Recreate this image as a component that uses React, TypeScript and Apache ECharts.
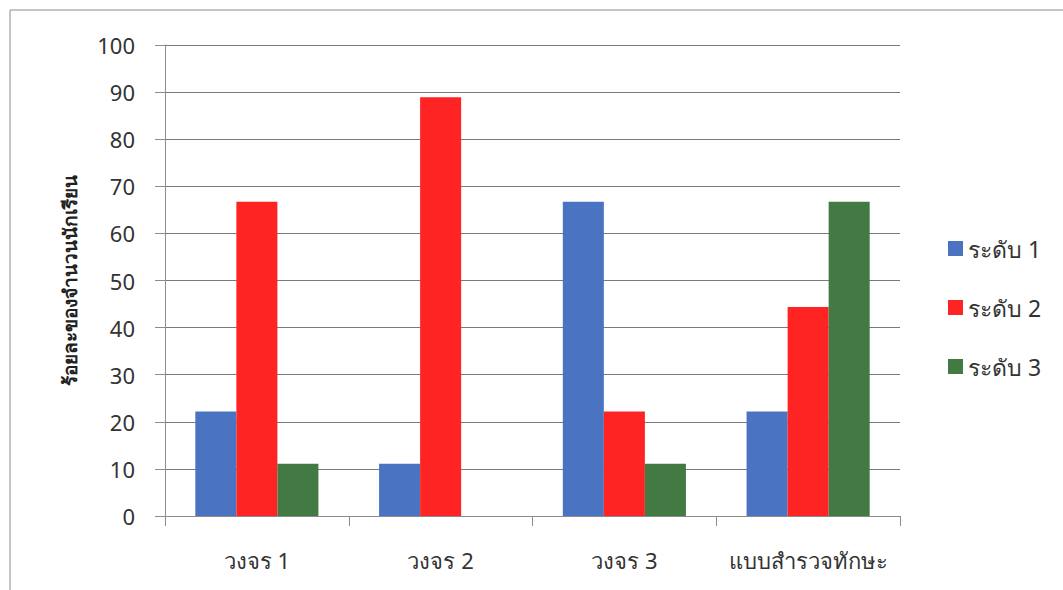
import React, { useEffect, useRef } from "react";
import * as echarts from "echarts";

const categories = ["วงจร 1", "วงจร 2", "วงจร 3", "แบบสำรวจทักษะ"];
const seriesNames = ["ระดับ 1", "ระดับ 2", "ระดับ 3"];
const level1 = [22.2, 11.1, 66.7, 22.2];
const level2 = [66.7, 88.9, 22.2, 44.4];
const level3 = [11.1, 0, 11.1, 66.7];
const colors = ["#4a73c2", "#ff2424", "#437a44"];

const FONT = "'Noto Sans', 'DejaVu Sans', sans-serif";

export default function App() {
  const ref = useRef<HTMLDivElement>(null);

  useEffect(() => {
    document.body.style.margin = "0";
    const chart = echarts.init(ref.current!, null, { renderer: "svg" });
    const values = [level1, level2, level3];
    chart.setOption({
      animation: false,
      backgroundColor: "#ffffff",
      textStyle: { fontFamily: FONT },
      graphic: [
        {
          type: "line",
          shape: { x1: 10, y1: 10, x2: 1063, y2: 10 },
          style: { stroke: "#8c8c8c", lineWidth: 1 },
        },
        {
          type: "line",
          shape: { x1: 10, y1: 10, x2: 10, y2: 590 },
          style: { stroke: "#8c8c8c", lineWidth: 1 },
        },
      ],
      grid: { left: 165, right: 163, top: 45, bottom: 74 },
      legend: {
        orient: "vertical",
        left: 943,
        top: 232,
        itemWidth: 15,
        itemHeight: 15,
        itemGap: 36,
        icon: "rect",
        textStyle: { fontSize: 23, color: "#333", fontFamily: FONT },
        data: seriesNames,
      },
      xAxis: {
        type: "category",
        data: categories,
        axisLine: { lineStyle: { color: "#8c8c8c", width: 1 } },
        axisTick: { show: true, length: 10, lineStyle: { color: "#8c8c8c" } },
        axisLabel: { interval: 0, margin: 33, fontSize: 22, color: "#333", fontFamily: FONT },
      },
      yAxis: {
        type: "value",
        min: 0,
        max: 100,
        interval: 10,
        name: "ร้อยละของจำนวนนักเรียน",
        nameLocation: "middle",
        nameGap: 86,
        nameRotate: 90,
        nameTextStyle: { fontSize: 19, fontWeight: "bold", color: "#222", fontFamily: FONT },
        axisLine: { show: true, lineStyle: { color: "#8c8c8c", width: 1 } },
        axisTick: { show: true, length: 10, lineStyle: { color: "#8c8c8c" } },
        axisLabel: { margin: 30, fontSize: 22, color: "#333", fontFamily: FONT },
        splitLine: { lineStyle: { color: "#7a7a7a", width: 1 } },
      },
      series: seriesNames.map((name, i) => ({
        name,
        type: "bar",
        data: values[i],
        barGap: "0%",
        barCategoryGap: "33%",
        itemStyle: { color: colors[i] },
      })),
    });
    return () => chart.dispose();
  }, []);

  return <div ref={ref} style={{ width: 1063, height: 590 }} />;
}
